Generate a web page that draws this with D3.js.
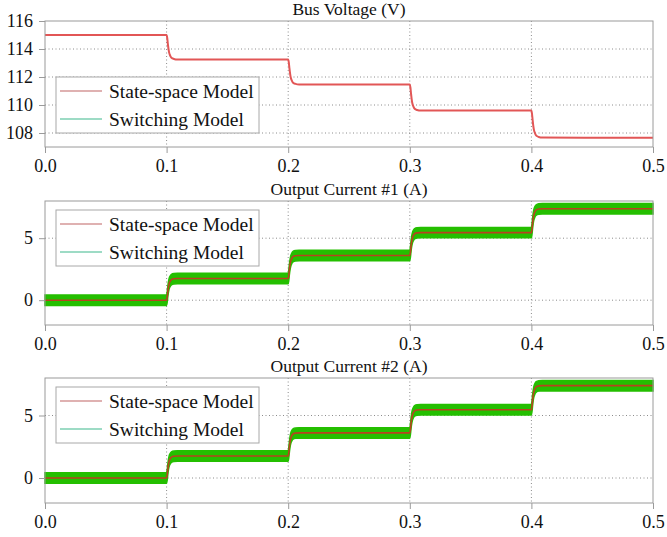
<!DOCTYPE html>
<html>
<head>
<meta charset="utf-8">
<script src="https://cdn.jsdelivr.net/npm/d3@7"></script>
<style>
  body { margin: 0; background: #fff; }
  text { font-family: "Liberation Serif", "Times New Roman", serif; fill: #111; }
</style>
</head>
<body>
<div id="chart"></div>
<script>
// time samples (s), shared by all three traces
var timeS = [0,
    0.1, 0.1005, 0.101, 0.1015, 0.102, 0.103, 0.104, 0.106, 0.109,
    0.2, 0.2005, 0.201, 0.2015, 0.202, 0.203, 0.204, 0.206, 0.209,
    0.3, 0.3005, 0.301, 0.3015, 0.302, 0.303, 0.304, 0.306, 0.309,
    0.4, 0.4005, 0.401, 0.4015, 0.402, 0.403, 0.404, 0.406, 0.409,
    0.5];

// bus voltage (V)
var busVoltage = [115,
    115, 114.79, 114.39, 114.04, 113.78, 113.51, 113.37, 113.29, 113.25,
    113.25, 113.04, 112.63, 112.27, 112.00, 111.74, 111.59, 111.51, 111.47,
    111.47, 111.25, 110.82, 110.44, 110.16, 109.88, 109.73, 109.64, 109.60,
    109.60, 109.37, 108.93, 108.54, 108.26, 107.97, 107.81, 107.72, 107.68,
    107.66];

// output current #1 (A)
var current1 = [0,
    0, 0.26, 0.70, 1.05, 1.30, 1.54, 1.66, 1.73, 1.75,
    1.75, 2.03, 2.49, 2.86, 3.12, 3.38, 3.51, 3.58, 3.60,
    3.60, 3.88, 4.34, 4.71, 4.97, 5.23, 5.36, 5.43, 5.45,
    5.45, 5.74, 6.22, 6.61, 6.88, 7.15, 7.28, 7.36, 7.38,
    7.38];

// output current #2 (A)
var current2 = [0,
    0, 0.26, 0.70, 1.06, 1.31, 1.55, 1.67, 1.74, 1.76,
    1.76, 2.04, 2.50, 2.87, 3.13, 3.39, 3.52, 3.59, 3.61,
    3.61, 3.89, 4.35, 4.72, 4.98, 5.24, 5.37, 5.44, 5.46,
    5.46, 5.75, 6.23, 6.62, 6.89, 7.16, 7.29, 7.37, 7.39,
    7.39];

// half peak-to-peak ripple of the switching model current (A)
var switchingRipple = [0, 0.42, 0.42];

var panelTitles = ["Bus Voltage (V)", "Output Current #1 (A)", "Output Current #2 (A)"];
var yDomains = [[107, 116], [-2, 8], [-2, 8]];
var yTicks = [[108, 110, 112, 114, 116], [0, 5], [0, 5]];
var xTicks = [0, 0.1, 0.2, 0.3, 0.4, 0.5];
var legendLabels = ["State-space Model", "Switching Model"];
var series = [busVoltage, current1, current2];

// Set SVG area dimensions
var svgWidth = 667;
var svgHeight = 537;
var left = 45, right = 653;
// top / bottom pixel of each plot box
var panelBox = [[21, 147], [201, 325], [378, 503]];
var legendTop = [56, 9, 9];

var svg = d3.select("#chart")
    .append("svg")
    .attr("width", svgWidth)
    .attr("height", svgHeight);

var x = d3.scaleLinear().domain([0, 0.5]).range([left, right]);

panelTitles.forEach(function(title, i) {
    var top = panelBox[i][0], bottom = panelBox[i][1];
    var y = d3.scaleLinear().domain(yDomains[i]).range([bottom, top]);
    var g = svg.append("g");
    var pts = timeS.map((t, k) => ({t: t, v: series[i][k]}));

    // dotted grid
    g.selectAll(".gx")
        .data(xTicks.slice(1, -1))
        .enter().append("line")
        .attr("x1", d => x(d)).attr("x2", d => x(d))
        .attr("y1", top).attr("y2", bottom)
        .attr("stroke", "#8c8c8c").attr("stroke-dasharray", "1,2.5");
    g.selectAll(".gy")
        .data(yTicks[i].filter(d => d > yDomains[i][0] && d < yDomains[i][1]))
        .enter().append("line")
        .attr("x1", left).attr("x2", right)
        .attr("y1", d => y(d)).attr("y2", d => y(d))
        .attr("stroke", "#8c8c8c").attr("stroke-dasharray", "1,2.5");

    // switching model ripple band
    if (switchingRipple[i] > 0) {
        var band = d3.area()
            .x(d => x(d.t))
            .y0(d => y(d.v - switchingRipple[i]))
            .y1(d => y(d.v + switchingRipple[i]))
            .curve(d3.curveMonotoneX);
        g.append("path")
            .datum(pts)
            .attr("d", band)
            .attr("fill", "#24bf00")
            .attr("stroke", "#24bf00")
            .attr("stroke-width", 1.5);
    }

    // state-space model line
    var line = d3.line()
        .x(d => x(d.t))
        .y(d => y(d.v))
        .curve(d3.curveMonotoneX);
    g.append("path")
        .datum(pts)
        .attr("d", line)
        .attr("fill", "none")
        .attr("stroke", i == 0 ? "#e25656" : "#b8421f")
        .attr("stroke-width", i == 0 ? 2 : 1.6);

    // frame
    g.append("rect")
        .attr("x", left).attr("y", top)
        .attr("width", right - left).attr("height", bottom - top)
        .attr("fill", "none").attr("stroke", "#9a9a9a");

    // axes
    var yAxis = g.append("g")
        .attr("transform", `translate(${left},0)`)
        .call(d3.axisLeft(y).tickValues(yTicks[i]).tickSize(6).tickPadding(6).tickFormat(d3.format("d")));
    var xAxis = g.append("g")
        .attr("transform", `translate(0,${bottom})`)
        .call(d3.axisBottom(x).tickValues(xTicks).tickSize(6).tickPadding(6).tickFormat(d3.format(".1f")));
    [xAxis, yAxis].forEach(function(a) {
        a.select(".domain").remove();
        a.selectAll("line").attr("stroke", "#9a9a9a");
        a.selectAll("text")
            .style("font-family", "Liberation Serif, serif")
            .style("font-size", "18px")
            .attr("fill", "#111");
    });

    // title
    g.append("text")
        .attr("x", (left + right) / 2)
        .attr("y", top - 6)
        .style("text-anchor", "middle")
        .style("font-size", "17.5px")
        .text(title);

    // legend
    var ly = top + legendTop[i];
    var lg = g.append("g").attr("transform", `translate(56,${ly})`);
    lg.append("rect")
        .attr("width", 203).attr("height", 56)
        .attr("fill", "#fff").attr("stroke", "#a8a8a8");
    legendLabels.forEach(function(lab, k) {
        var cy = 14 + k * 28;
        lg.append("line")
            .attr("x1", 4).attr("x2", 46)
            .attr("y1", cy).attr("y2", cy)
            .attr("stroke", k == 0 ? "#c06464" : "#3cb88c")
            .attr("stroke-width", 1.2);
        lg.append("text")
            .attr("x", 53)
            .attr("y", cy + 6.5)
            .style("font-size", "19.5px")
            .text(lab);
    });
});
</script>
</body>
</html>
